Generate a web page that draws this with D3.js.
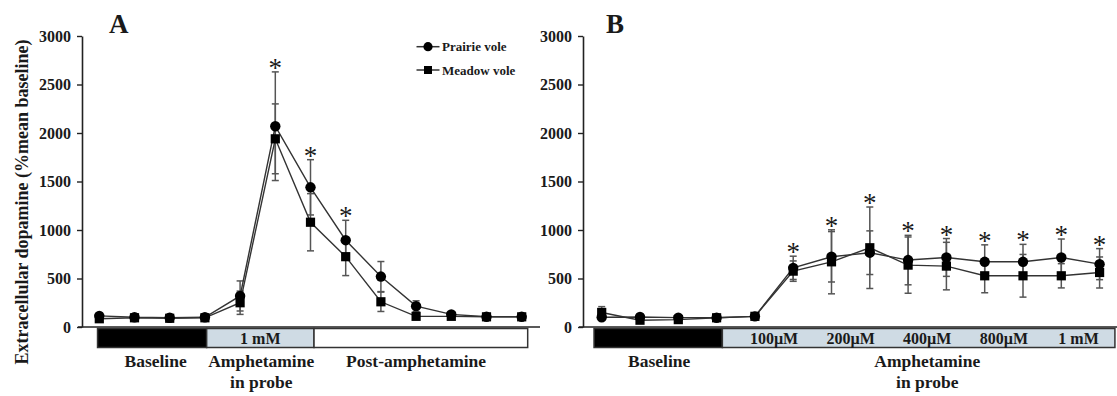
<!DOCTYPE html>
<html>
<head>
<meta charset="utf-8">
<script src="https://cdn.jsdelivr.net/npm/d3@7"></script>
<style>
  body { margin: 0; background: #fff; }
  text { font-family: "Liberation Serif", "Times New Roman", serif; fill: #1a1a1a; }
</style>
</head>
<body>
<div id="chart"></div>
<script>
// ---- data ----
// Panel A: 13 samples (baseline, 1 mM amphetamine, post)
var prairieA     = [115, 100, 95, 100, 320, 2070, 1440, 895, 520, 215, 130, 105, 105];
var prairieErrA  = [25, 15, 15, 15, 155, 560, 285, 205, 155, 55, 25, 15, 15];
var meadowA      = [85, 95, 90, 95, 250, 1940, 1080, 725, 260, 110, 110, 105, 105];
var meadowErrA   = [20, 15, 15, 15, 120, 360, 295, 195, 100, 20, 15, 10, 10];
var starsA       = [5, 6, 7];

// Panel B: 14 samples (baseline, then increasing doses)
var prairieB     = [100, 103, 97, 95, 110, 610, 724, 766, 690, 717, 672, 672, 717, 648];
var prairieErrB  = [30, 15, 15, 15, 15, 120, 260, 225, 255, 195, 175, 180, 190, 160];
var meadowB      = [150, 70, 76, 95, 110, 576, 672, 817, 638, 628, 528, 528, 528, 562];
var meadowErrB   = [60, 15, 15, 15, 15, 105, 330, 420, 290, 245, 175, 220, 125, 160];
var starsB       = [5, 6, 7, 8, 9, 10, 11, 12, 13];

var yTicks = [0, 500, 1000, 1500, 2000, 2500, 3000];

// condition bars under the x axis (in sample units)
var periodsA = [
  {kind: "base", start: -0.05, end: 3.05, text: ""},
  {kind: "amph", start: 3.05, end: 6.1, text: "1 mM"},
  {kind: "post", start: 6.1, end: 12.17, text: ""}
];
var periodsB = [
  {kind: "base", start: -0.2, end: 3.15, text: ""},
  {kind: "amph", start: 3.15, end: 13.4, text: ""}
];
var dosesB = [{at: 4.5, text: "100\u00b5M"}, {at: 6.5, text: "200\u00b5M"}, {at: 8.5, text: "400\u00b5M"},
              {at: 10.5, text: "800\u00b5M"}, {at: 12.45, text: "1 mM"}];
var captionsA = [{at: 1.6, lines: ["Baseline"]}, {at: 4.6, lines: ["Amphetamine", "in probe"]},
                 {at: 9.0, lines: ["Post-amphetamine"]}];
var captionsB = [{at: 1.5, lines: ["Baseline"]}, {at: 8.5, lines: ["Amphetamine", "in probe"]}];

var periodFill = {base: "#000", amph: "#cfdbe4", post: "#fff"};

var W = 1117, H = 396;
var svg = d3.select("#chart").append("svg").attr("width", W).attr("height", H);

function drawPanel(opt) {
  var x = d3.scaleLinear().domain([0, opt.n - 1]).range(opt.xr);
  var y = d3.scaleLinear().domain([0, 3000]).range([327, 36]);
  var g = svg.append("g");

  // y axis
  var ax = g.append("g")
    .attr("transform", "translate(" + opt.axisX + ",0)")
    .call(d3.axisLeft(y).tickValues(yTicks).tickFormat(d3.format("d"))
      .tickSize(5).tickSizeOuter(0).tickPadding(6));
  ax.select(".domain").attr("stroke", "#222").attr("stroke-width", 1.6);
  ax.selectAll(".tick line").attr("stroke", "#222").attr("stroke-width", 1.4);
  ax.selectAll(".tick text").attr("font-family", "Liberation Serif").attr("font-weight", "bold")
    .attr("font-size", 16).attr("fill", "#1a1a1a");

  // x baseline
  g.append("line").attr("x1", opt.axisX - 4).attr("x2", opt.lineEnd)
    .attr("y1", y(0)).attr("y2", y(0)).attr("stroke", "#222").attr("stroke-width", 1.6);

  // period bars
  g.selectAll("rect.period").data(opt.periods).enter().append("rect")
    .attr("class", "period")
    .attr("x", function(d) { return x(d.start); })
    .attr("width", function(d) { return x(d.end) - x(d.start); })
    .attr("y", 328.5).attr("height", 19)
    .attr("fill", function(d) { return periodFill[d.kind]; })
    .attr("stroke", "#333").attr("stroke-width", 1.5);

  g.selectAll("text.ptxt").data(opt.periods.filter(function(d) { return d.text; })).enter().append("text")
    .attr("x", function(d) { return x((d.start + d.end) / 2); })
    .attr("y", 344).attr("text-anchor", "middle")
    .attr("font-size", 16).attr("font-weight", "bold")
    .text(function(d) { return d.text; });

  if (opt.doses) {
    g.selectAll("text.dose").data(opt.doses).enter().append("text")
      .attr("x", function(d) { return x(d.at); })
      .attr("y", 344).attr("text-anchor", "middle")
      .attr("font-size", 16).attr("font-weight", "bold")
      .text(function(d) { return d.text; });
  }

  // captions below bars
  opt.captions.forEach(function(c) {
    c.lines.forEach(function(l, i) {
      g.append("text").attr("x", x(c.at)).attr("y", 367 + i * 21)
        .attr("text-anchor", "middle").attr("font-size", 17.5).attr("font-weight", "bold")
        .text(l);
    });
  });

  var series = [
    {vals: opt.prairie, err: opt.prairieErr, shape: "circle"},
    {vals: opt.meadow, err: opt.meadowErr, shape: "square"}
  ];

  // error bars
  series.forEach(function(s) {
    var eb = g.append("g").attr("stroke", "#555").attr("stroke-width", 1.5);
    s.vals.forEach(function(v, i) {
      var e = s.err[i], cx = x(i);
      eb.append("line").attr("x1", cx).attr("x2", cx).attr("y1", y(v - e)).attr("y2", y(v + e));
      [v - e, v + e].forEach(function(t) {
        eb.append("line").attr("x1", cx - 3.5).attr("x2", cx + 3.5).attr("y1", y(t)).attr("y2", y(t));
      });
    });
  });

  // lines
  var line = d3.line().x(function(d, i) { return x(i); }).y(function(d) { return y(d); });
  series.forEach(function(s) {
    g.append("path").datum(s.vals).attr("d", line)
      .attr("fill", "none").attr("stroke", "#333").attr("stroke-width", 1.4);
  });

  // markers
  series.forEach(function(s) {
    s.vals.forEach(function(v, i) {
      if (s.shape === "circle") {
        g.append("circle").attr("cx", x(i)).attr("cy", y(v)).attr("r", 5.2).attr("fill", "#000");
      } else {
        g.append("rect").attr("x", x(i) - 4.6).attr("y", y(v) - 4.6)
          .attr("width", 9.2).attr("height", 9.2).attr("fill", "#000");
      }
    });
  });

  // significance asterisks
  opt.stars.forEach(function(i) {
    var top = Math.max(opt.prairie[i] + opt.prairieErr[i], opt.meadow[i] + opt.meadowErr[i]);
    g.append("text").attr("x", x(i)).attr("y", y(top) + 5)
      .attr("text-anchor", "middle").attr("font-size", 27).attr("fill", "#222").text("*");
  });

  // panel letter
  g.append("text").attr("x", opt.letterX).attr("y", 33)
    .attr("font-size", 27).attr("font-weight", "bold").text(opt.letter);

  return {x: x, y: y, g: g};
}

drawPanel({
  n: 13, xr: [99.3, 521.7], axisX: 82, lineEnd: 540,
  prairie: prairieA, prairieErr: prairieErrA, meadow: meadowA, meadowErr: meadowErrA,
  stars: starsA, periods: periodsA, captions: captionsA, letter: "A", letterX: 109
});

drawPanel({
  n: 14, xr: [601.7, 1099.6], axisX: 583, lineEnd: 1117,
  prairie: prairieB, prairieErr: prairieErrB, meadow: meadowB, meadowErr: meadowErrB,
  stars: starsB, periods: periodsB, doses: dosesB, captions: captionsB, letter: "B", letterX: 606
});

// y axis title
svg.append("text")
  .attr("transform", "translate(28,202) rotate(-90)")
  .attr("text-anchor", "middle").attr("font-size", 18).attr("font-weight", "bold")
  .text("Extracellular dopamine (%mean baseline)");

// legend
var legend = svg.append("g");
var legendItems = [{name: "Prairie vole", shape: "circle"}, {name: "Meadow vole", shape: "square"}];
legendItems.forEach(function(d, i) {
  var ly = 46.7 + i * 23.3;
  legend.append("line").attr("x1", 416.5).attr("x2", 439.5).attr("y1", ly).attr("y2", ly)
    .attr("stroke", "#333").attr("stroke-width", 1.5);
  if (d.shape === "circle") {
    legend.append("circle").attr("cx", 428).attr("cy", ly).attr("r", 4.6).attr("fill", "#000");
  } else {
    legend.append("rect").attr("x", 424).attr("y", ly - 4).attr("width", 8).attr("height", 8).attr("fill", "#000");
  }
  legend.append("text").attr("x", 442).attr("y", ly + 4.5)
    .attr("font-size", 13).attr("font-weight", "bold").text(d.name);
});
</script>
</body>
</html>
